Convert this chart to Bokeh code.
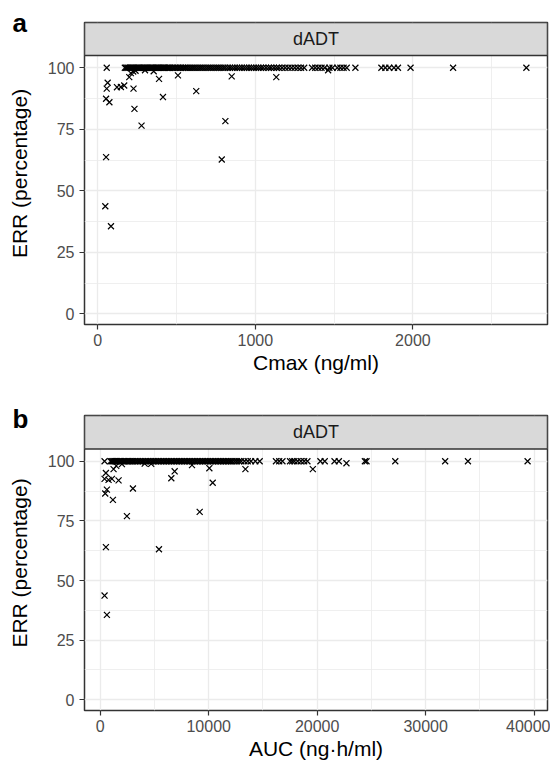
from bokeh.plotting import figure
from bokeh.models import Range1d, FixedTicker, BoxAnnotation, Label, Title
from bokeh.layouts import column
from bokeh.embed import file_html
from bokeh.resources import INLINE

FONT = "Liberation Sans"

# ---------------- data: panel a (Cmax vs ERR) ----------------
cmax_full = [57, 172, 180, 188, 195, 203, 210, 218, 225, 232, 240, 247, 255, 262, 270,
             278, 285, 293, 300, 308, 315, 322, 330, 338, 345, 352, 360, 368, 375, 383,
             390, 398, 405, 413, 420, 428, 436, 444, 452, 460, 470, 480, 490, 500, 510,
             520, 530, 540, 550, 560, 572, 585, 598, 610, 622, 635, 648, 660, 672, 685,
             698, 710, 722, 735, 748, 760, 772, 785, 798, 810, 825, 840, 855, 870, 885,
             900, 915, 930, 945, 960, 975, 990, 1005, 1020, 1035, 1050, 1068, 1085, 1100,
             1118, 1135, 1150, 1170, 1190, 1210, 1230, 1250, 1270, 1290, 1310, 1360, 1380,
             1400, 1420, 1440, 1470, 1490, 1520, 1540, 1560, 1580, 1635, 1800, 1825, 1850,
             1880, 1905, 1985, 2255, 2720]
err_full = [100] * len(cmax_full)

cmax_part = [63, 57, 53, 74, 122, 147, 168, 200, 210, 227, 233, 278, 389, 414, 509, 625,
             810, 850, 787, 1133, 53, 48, 84, 240, 225, 300, 355, 1462]
err_part = [93.9, 91.5, 87.4, 86.0, 92.1, 92.2, 92.8, 96.2, 97.8, 91.5, 83.3, 76.5, 95.5,
            88.1, 96.9, 90.5, 78.3, 96.5, 62.7, 96.2, 63.7, 43.7, 35.6, 98.8, 98.5, 99.0,
            98.6, 99.0]

# ---------------- data: panel b (AUC vs ERR) ----------------
auc_full = [400, 950, 1050, 1150, 1250, 1350, 1450, 1560, 1680, 1800, 1920, 2050, 2180,
            2300, 2420, 2550, 2680, 2800, 2930, 3060, 3200, 3350, 3500, 3650, 3800, 3950,
            4100, 4250, 4400, 4550, 4700, 4850, 5000, 5150, 5300, 5450, 5600, 5750, 5900,
            6050, 6200, 6350, 6500, 6650, 6800, 6950, 7100, 7250, 7400, 7550, 7700, 7850,
            8000, 8150, 8300, 8450, 8600, 8750, 8900, 9050, 9200, 9350, 9500, 9650, 9800,
            9950, 10100, 10250, 10400, 10550, 10700, 10850, 11000, 11150, 11300, 11450,
            11600, 11750, 11900, 12050, 12200, 12400, 12600, 12800, 13000, 13300, 13600,
            13900, 14300, 14700, 16200, 16500, 16800, 17500, 17700, 17900, 18200, 18500,
            18800, 19100, 20300, 20700, 21600, 22000, 24400, 24550, 27200, 31800, 33900,
            39400]
err_full_b = [100] * len(auc_full)

auc_part = [523, 400, 769, 1077, 1692, 615, 461, 1169, 1230, 1477, 3015, 2461, 523, 5415,
            6554, 6861, 8461, 9169, 10061, 10369, 13385, 19600, 22700, 400, 615, 2000,
            4700, 4100]
err_part_b = [95.1, 92.6, 92.2, 92.6, 92.0, 88.1, 86.5, 83.8, 96.7, 98.1, 88.6, 77.0, 64.0,
              63.1, 92.9, 95.8, 98.4, 78.8, 97.1, 91.0, 96.7, 96.7, 99.2, 43.7, 35.6, 98.8,
              98.9, 99.0]

y_ticks = [0, 25, 50, 75, 100]
y_minor = [12.5, 37.5, 62.5, 87.5]
cmax_ticks = [0, 1000, 2000]
cmax_minor = [500, 1500, 2500]
auc_ticks = [0, 10000, 20000, 30000, 40000]
auc_minor = [5000, 15000, 25000, 35000]

strip_label = "dADT"
y_label = "ERR (percentage)"


def make_panel(xs, ys, letter, xlabel, xr, yr, strip_bottom, xt, xm,
               height, border_top, border_bottom, letter_standoff):
    p = figure(width=550, height=height, output_backend="svg", toolbar_location=None,
               x_range=Range1d(*xr), y_range=Range1d(*yr),
               min_border_left=84, min_border_right=3,
               min_border_top=border_top, min_border_bottom=border_bottom)
    p.background_fill_color = "white"
    p.border_fill_color = "white"
    p.outline_line_color = "#333333"
    p.outline_line_width = 1.5

    p.scatter(xs, ys, marker="x", size=8.5, line_color="black", line_width=1.2)

    p.xaxis.ticker = FixedTicker(ticks=xt, minor_ticks=xm)
    p.yaxis.ticker = FixedTicker(ticks=y_ticks, minor_ticks=y_minor)
    for g in (p.xgrid, p.ygrid):
        g.grid_line_color = "#ebebeb"
        g.grid_line_width = 1.3
        g.minor_grid_line_color = "#ebebeb"
        g.minor_grid_line_width = 0.8

    for ax in (p.xaxis, p.yaxis):
        ax.axis_line_color = None
        ax.major_tick_line_color = "#333333"
        ax.major_tick_line_width = 1.2
        ax.major_tick_out = 5
        ax.major_tick_in = 0
        ax.minor_tick_line_color = None
        ax.major_label_text_font = FONT
        ax.major_label_text_font_size = "16px"
        ax.major_label_text_color = "#4d4d4d"
        ax.axis_label_text_font = FONT
        ax.axis_label_text_font_size = "21px"
        ax.axis_label_text_font_style = "normal"
        ax.axis_label_text_color = "black"
    p.xaxis.axis_label = xlabel
    p.yaxis.axis_label = y_label
    p.xaxis.major_label_standoff = 4
    p.xaxis.axis_label_standoff = 2
    p.yaxis.major_label_standoff = 5
    p.yaxis.axis_label_standoff = 14

    strip = BoxAnnotation(bottom=strip_bottom, fill_color="#d9d9d9", fill_alpha=1.0,
                          line_color="#333333", line_width=1.5, line_alpha=1.0)
    p.add_layout(strip)
    p.add_layout(Label(x=(xr[0] + xr[1]) / 2, y=(strip_bottom + yr[1]) / 2, text=strip_label,
                       text_align="center", text_baseline="middle",
                       text_font=FONT, text_font_size="18px", text_color="#1a1a1a"))
    p.title = Title(text=letter, align="left", offset=-72, standoff=letter_standoff,
                    text_font=FONT, text_font_size="26px", text_font_style="bold",
                    text_color="black")
    return p


pa = make_panel(cmax_full + cmax_part, err_full + err_part, "a", "Cmax (ng/ml)",
                (-84, 2854), (-4.35, 118.4), 105.0, cmax_ticks, cmax_minor,
                384, 22, 60, -31)
pb = make_panel(auc_full + auc_part, err_full_b + err_part_b, "b", "AUC (ng\u00b7h/ml)",
                (-1450, 41235), (-4.5, 119.2), 105.2, auc_ticks, auc_minor,
                378, 31, 50, -37)

layout = column(pa, pb, spacing=0)
open("out.html", "w").write(file_html(layout, INLINE))
